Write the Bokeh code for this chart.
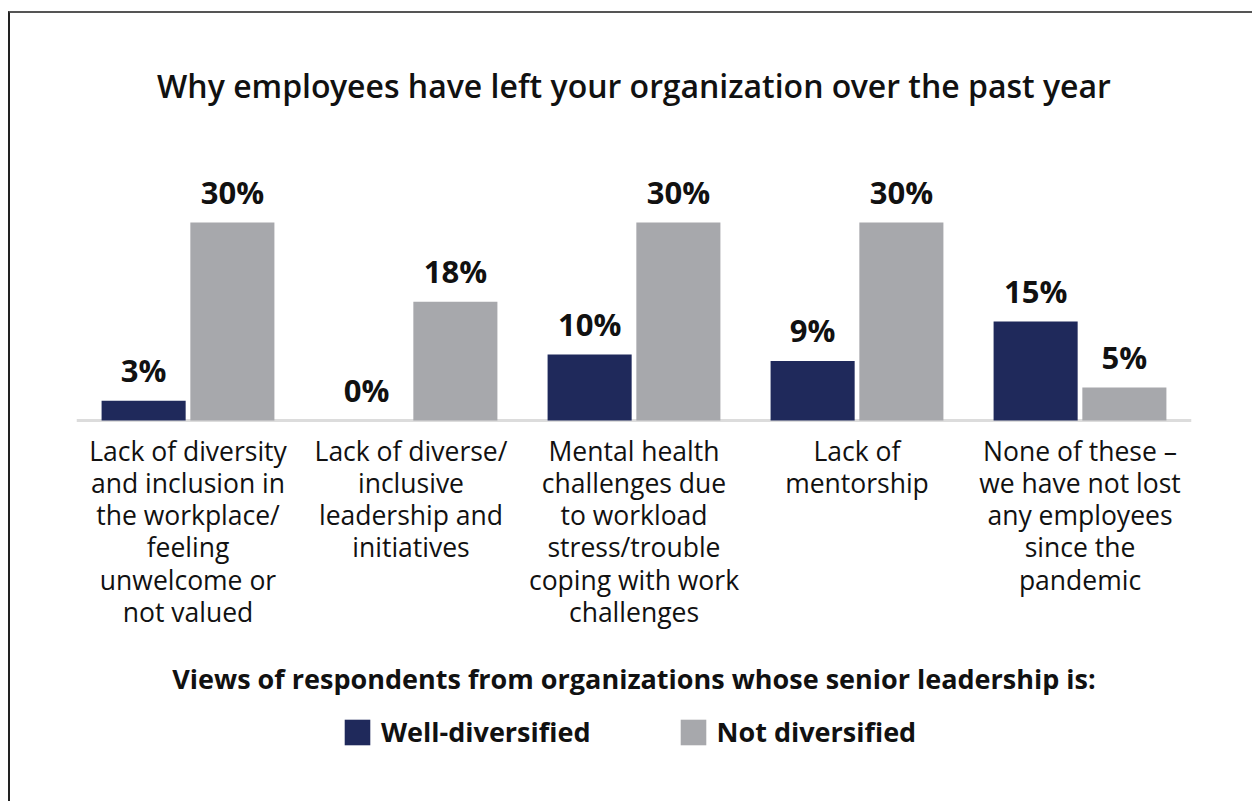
from bokeh.plotting import figure
from bokeh.models import (ColumnDataSource, FactorRange, Range1d, Legend,
                          LegendItem, Span, Label)
from bokeh.transform import dodge
from bokeh.core.properties import value
from bokeh.embed import file_html
from bokeh.resources import INLINE

# ---------------- data ----------------
category_keys = ["c1", "c2", "c3", "c4", "c5"]
category_labels = [
    "Lack of diversity\nand inclusion in\nthe workplace/\nfeeling\nunwelcome or\nnot valued",
    "Lack of diverse/\ninclusive\nleadership and\ninitiatives",
    "Mental health\nchallenges due\nto workload\nstress/trouble\ncoping with work\nchallenges",
    "Lack of\nmentorship",
    "None of these \u2013\nwe have not lost\nany employees\nsince the\npandemic",
]
well_diversified = [3, 0, 10, 9, 15]
not_diversified = [30, 18, 30, 30, 5]
series_names = ["Well-diversified", "Not diversified"]
title_text = "Why employees have left your organization over the past year"
subtitle_text = "Views of respondents from organizations whose senior leadership is:"

NAVY = "#1f295b"
GRAY = "#a7a8ac"
TEXT = "#111111"
FONT = "Open Sans"

src = ColumnDataSource(dict(
    cats=category_keys,
    labels=category_labels,
    zero=[0] * len(category_keys),
    well=well_diversified,
    notd=not_diversified,
    well_lbl=[f"{v}%" for v in well_diversified],
    notd_lbl=[f"{v}%" for v in not_diversified],
))

# ---------------- layout constants (figure pixels) ----------------
W, H = 1244, 790
FRAME_LEFT, FRAME_RIGHT = 66, 1181
FRAME_TOP = 115
BASELINE = 407
PX_PER_UNIT = 6.6
y_end = (BASELINE - FRAME_TOP) / PX_PER_UNIT
y_start = -(H - BASELINE) / PX_PER_UNIT

p = figure(width=W, height=H,
           x_range=FactorRange(*category_keys, range_padding=0),
           y_range=Range1d(y_start, y_end),
           output_backend="svg", toolbar_location=None,
           x_axis_location=None, y_axis_location=None,
           min_border_left=FRAME_LEFT, min_border_right=W - FRAME_RIGHT,
           min_border_top=FRAME_TOP, min_border_bottom=0,
           title=title_text)
p.styles = {"border-left": "2px solid #222222",
            "border-top": "2px solid #555555",
            "margin-top": "11px", "margin-left": "8px"}
p.outline_line_color = None
p.xgrid.visible = False
p.ygrid.visible = False
p.background_fill_color = "white"
p.border_fill_color = "white"

p.title.align = "center"
p.title.text_font = "Open Sans SemiBold, Open Sans"
p.title.text_font_style = "normal"
p.title.text_font_size = "32px"
p.title.text_color = TEXT
p.title.standoff = 43

# axis baseline
p.add_layout(Span(location=0, dimension="width", line_color="#dcdcdc",
                  line_width=3, level="underlay"))

OFF = 0.199
BW = 0.377
r1 = p.vbar(x=dodge("cats", -OFF, range=p.x_range), top="well", bottom=0,
            width=BW, source=src, fill_color=NAVY, line_color=None)
r2 = p.vbar(x=dodge("cats", OFF, range=p.x_range), top="notd", bottom=0,
            width=BW, source=src, fill_color=GRAY, line_color=None)

for col, lbl, off in (("well", "well_lbl", -OFF), ("notd", "notd_lbl", OFF)):
    p.text(x=dodge("cats", off, range=p.x_range), y=col, text=lbl, source=src,
           text_align="center", text_baseline="alphabetic", y_offset=-31,
           text_font=value(FONT), text_font_style="bold",
           text_font_size="31px", text_color=TEXT)

# category labels under the baseline
p.text(x="cats", y="zero", text="labels", source=src,
       text_align="center", text_baseline="top", y_offset=12,
       text_font=value(FONT), text_font_size="26.5px",
       text_line_height=0.898, text_color=TEXT)

# subtitle (centred on the frame)
SUB_CENTER = 665
p.add_layout(Label(x=(FRAME_RIGHT - FRAME_LEFT) / 2, x_units="screen",
                   y=(BASELINE - SUB_CENTER) / PX_PER_UNIT,
                   text=subtitle_text, text_align="center",
                   text_baseline="middle", text_font=FONT,
                   text_font_style="bold", text_font_size="27px",
                   text_color=TEXT))

legend = Legend(items=[LegendItem(label=series_names[0], renderers=[r1]),
                       LegendItem(label=series_names[1], renderers=[r2])],
                orientation="horizontal", location=(265, 53),
                label_text_font=FONT, label_text_font_style="bold",
                label_text_font_size="27px", label_text_color=TEXT,
                glyph_width=32, glyph_height=32, label_height=32,
                spacing=86, label_standoff=8,
                border_line_color=None, background_fill_alpha=0,
                padding=0, margin=0)
p.add_layout(legend, "center")

open("out.html", "w").write(file_html(p, INLINE))
